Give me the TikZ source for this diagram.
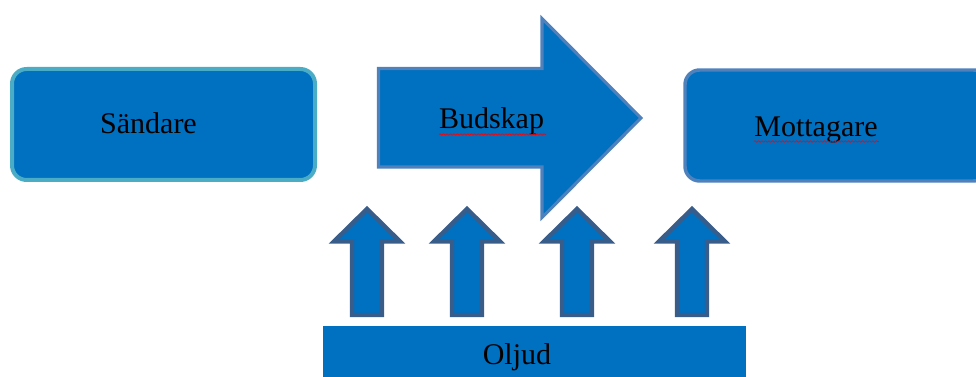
\documentclass[tikz,border=0pt]{standalone}
\usepackage{fontspec}
\setmainfont{Liberation Serif}
\usetikzlibrary{decorations.pathmorphing}
\definecolor{fillblue}{HTML}{0070C0}
\definecolor{tealedge}{HTML}{4BACC6}
\definecolor{lightedge}{HTML}{4F81BD}
\definecolor{darkedge}{HTML}{385D8A}
\tikzset{
  sendbox/.style={fill=fillblue, draw=tealedge, line width=3pt, rounded corners=11pt},
  recvbox/.style={fill=fillblue, draw=lightedge, line width=2.6pt, rounded corners=11pt},
  bigarrow/.style={fill=fillblue, draw=lightedge, line width=2.3pt, line join=miter},
  smallarrow/.style={fill=fillblue, draw=darkedge, line width=3.3pt, line join=miter},
  noisebar/.style={fill=fillblue},
  lbl/.style={font=\fontsize{22.5pt}{26pt}\selectfont, text=black, inner sep=0pt, anchor=base},
  spell/.style={draw=red, line width=0.5pt, decorate, decoration={snake, amplitude=0.5pt, segment length=2.6pt}}
}
\begin{document}
\begin{tikzpicture}[x=0.75pt,y=-0.75pt]
\useasboundingbox (0,0) rectangle (976,377);
\clip (0,0) rectangle (976,377);
% Sändare box
\draw[sendbox] (12,69) rectangle (315,180);
% Mottagare box
\draw[recvbox] (685,70) rectangle (988,181);
% Budskap big arrow
\draw[bigarrow] (378.5,68.5) -- (542,68.5) -- (542,18.5) -- (641,118) -- (542,217.5) -- (542,167) -- (378.5,167) -- cycle;
% Oljud bar
\fill[noisebar] (323,326) rectangle (746,380);
% small arrows
\foreach \c in {367,467,577,692}{
  \draw[smallarrow] (\c,209) -- (\c+33,241.5) -- (\c+15,241.5) -- (\c+15,315) -- (\c-15,315) -- (\c-15,241.5) -- (\c-33,241.5) -- cycle;
}
% labels
\node[lbl] (sandare) at (148.5,134) {Sändare};
\node[lbl] (budskap) at (491.5,129) {Budskap};
\node[lbl] (mottagare) at (816,137) {Mottagare};
\node[lbl] (oljud) at (517,365) {Oljud};
% spell-check squiggles
\coordinate (bs1) at (439,134.5);
\coordinate (bs2) at (546,134.5);
\coordinate (ms1) at (754,141.5);
\coordinate (ms2) at (879,141.5);
\draw[spell] (bs1) -- (bs2);
\draw[spell] (ms1) -- (ms2);
\end{tikzpicture}
\end{document}
